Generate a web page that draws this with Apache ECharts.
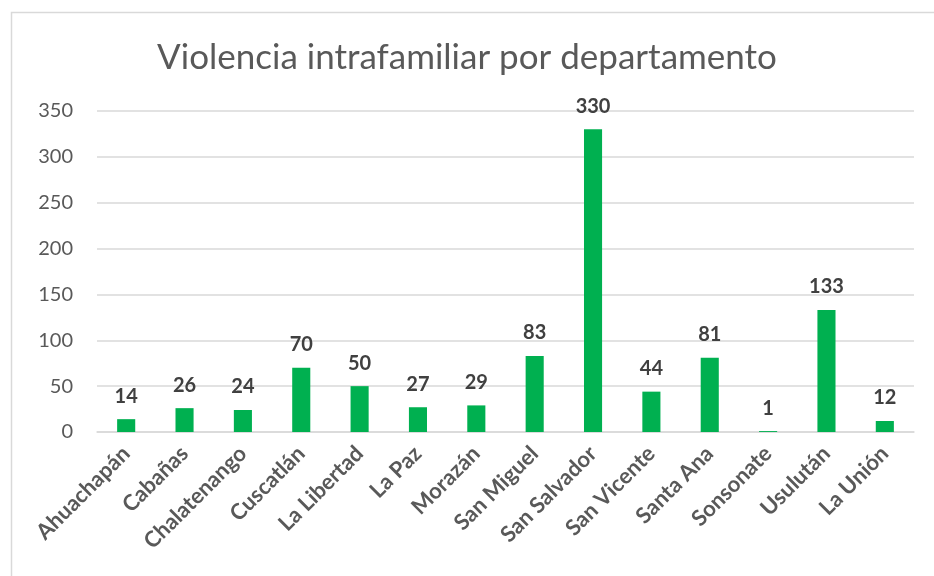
<!DOCTYPE html>
<html>
<head>
<meta charset="utf-8">
<script src="https://cdn.jsdelivr.net/npm/echarts@6/dist/echarts.min.js"></script>
<style>html,body{margin:0;padding:0;background:#fff}#c{width:934px;height:576px}</style>
</head>
<body>
<div id="c"></div>
<script>
const categories = ['Ahuachapán','Cabañas','Chalatenango','Cuscatlán','La Libertad','La Paz','Morazán','San Miguel','San Salvador','San Vicente','Santa Ana','Sonsonate','Usulután','La Unión'];
const values = [14, 26, 24, 70, 50, 27, 29, 83, 330, 44, 81, 1, 133, 12];
const titleText = 'Violencia intrafamiliar por departamento';
const yMin = 0, yMax = 350, yInterval = 50;

const FONT = 'Lato, "Open Sans", sans-serif';
const chart = echarts.init(document.getElementById('c'), null, {renderer: 'canvas'});
chart.setOption({
  animation: false,
  graphic: [{
    type: 'rect', shape: {x: 11.5, y: 12.5, width: 940, height: 600},
    style: {fill: 'none', stroke: '#D9D9D9', lineWidth: 1.5}, silent: true, z: -1
  }],
  title: {
    text: titleText, left: 'center', top: 35,
    textStyle: {fontFamily: FONT, fontSize: 35, fontWeight: 'normal', color: '#595959'}
  },
  grid: {left: 97, right: 20, top: 111, bottom: 144},
  xAxis: {
    type: 'category', data: categories,
    axisLine: {lineStyle: {color: '#D9D9D9', width: 1.5}},
    axisTick: {show: false},
    axisLabel: {rotate: 45, interval: 0, margin: 18, color: '#595959', fontFamily: FONT, fontSize: 22, fontWeight: 'bold'}
  },
  yAxis: {
    type: 'value', min: yMin, max: yMax, interval: yInterval,
    axisLine: {show: false}, axisTick: {show: false},
    splitLine: {lineStyle: {color: '#D9D9D9', width: 1.5}},
    axisLabel: {color: '#595959', fontFamily: FONT, fontSize: 20, margin: 24}
  },
  series: [{
    type: 'bar', data: values, barWidth: '31%',
    itemStyle: {color: '#00B050'},
    label: {show: true, position: 'top', distance: 13, color: '#404040', fontFamily: FONT, fontSize: 20, fontWeight: 'bold'}
  }]
});
</script>
</body>
</html>
